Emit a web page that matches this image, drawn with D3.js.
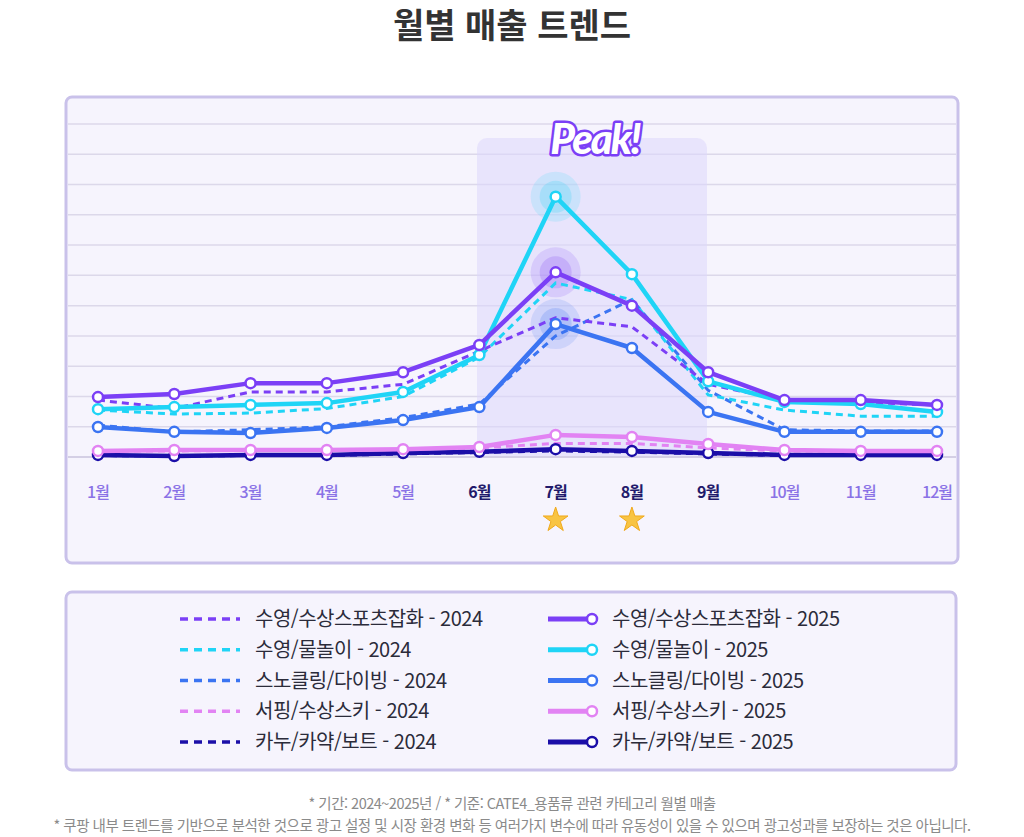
<!DOCTYPE html>
<html lang="ko">
<head>
<meta charset="UTF-8">
<script src="https://cdn.jsdelivr.net/npm/d3@7"></script>
<style>
  body { margin: 0; background: #fff; font-family: "Noto Sans CJK KR", "Noto Sans", sans-serif; }
</style>
</head>
<body>
<script>
var months = ["1월","2월","3월","4월","5월","6월","7월","8월","9월","10월","11월","12월"];
var hiMonths = ["6월","7월","8월","9월"];
var starMonths = ["7월","8월"];
var names = ["수영/수상스포츠잡화","수영/물놀이","스노클링/다이빙","서핑/수상스키","카누/카약/보트"];
var colors = ["#7b3ff6","#1fd4f6","#3b74f2","#e283f3","#1b0ea8"];
var y2025 = [
  [1.98,2.08,2.44,2.44,2.8,3.7,6.1,5.0,2.8,1.88,1.88,1.72],
  [1.58,1.65,1.72,1.78,2.15,3.37,8.6,6.04,2.5,1.82,1.75,1.49],
  [0.99,0.83,0.79,0.96,1.22,1.65,4.39,3.6,1.49,0.83,0.83,0.83],
  [0.2,0.23,0.23,0.23,0.26,0.33,0.73,0.66,0.43,0.23,0.2,0.2],
  [0.07,0.03,0.07,0.07,0.13,0.17,0.26,0.2,0.13,0.07,0.07,0.07]
];
var y2024 = [
  [1.88,1.6,2.15,2.15,2.4,3.5,4.6,4.3,2.4,1.88,1.8,1.72],
  [1.55,1.42,1.45,1.6,2.0,3.3,5.75,5.2,2.05,1.55,1.35,1.35],
  [1.05,0.83,0.9,1.0,1.3,1.75,4.0,5.2,2.2,0.9,0.86,0.86],
  [0.2,0.2,0.22,0.22,0.25,0.3,0.45,0.45,0.3,0.2,0.2,0.2],
  [0.05,0.03,0.05,0.05,0.1,0.15,0.2,0.16,0.1,0.05,0.05,0.05]
];
var gridTicks = d3.range(0, 12);

var W = 1024, H = 837;
var svg = d3.select("body").append("svg").attr("width", W).attr("height", H);

svg.append("text").attr("x", 512).attr("y", 38).attr("text-anchor","middle")
  .attr("font-size", 34).attr("font-weight", 700).attr("fill", "#333").text("월별 매출 트렌드");

// chart panel
svg.append("rect").attr("x",66).attr("y",97).attr("width",892).attr("height",466).attr("rx",6)
  .attr("fill","#f6f4fd").attr("stroke","#c9c1ea").attr("stroke-width",3);

var x = d3.scalePoint().domain(months).range([98, 937]);
var y = d3.scaleLinear().domain([0, 11]).range([457, 124]);

svg.append("g").selectAll("line").data(gridTicks).join("line")
  .attr("x1",68).attr("x2",956).attr("y1",d=>y(d)).attr("y2",d=>y(d))
  .attr("stroke", d => d === 0 ? "#c8c3dc" : "#dcd8ea").attr("stroke-width",1.5);

// peak highlight
svg.append("rect").attr("x",477).attr("y",138).attr("width",230).attr("height",318).attr("rx",10)
  .attr("fill","#ddd7fb").attr("opacity",0.55);

// x labels
svg.append("g").selectAll("text").data(months).join("text")
  .attr("x", d => x(d)).attr("y", 498).attr("text-anchor","middle")
  .attr("font-size", 16).attr("font-weight", d => hiMonths.includes(d) ? 700 : 500)
  .attr("letter-spacing", -1)
  .attr("fill", d => hiMonths.includes(d) ? "#221a6b" : "#8a72e6").text(d => d);

var star = d3.symbol().type(d3.symbolStar).size(190);
svg.append("g").selectAll("path").data(starMonths).join("path")
  .attr("d", star).attr("transform", d => "translate(" + x(d) + ",520)")
  .attr("fill","#f8c443").attr("stroke","#f0a91c").attr("stroke-width",1);

var line = d3.line().x((d,i) => x(months[i])).y(d => y(d));

// halos at July
[1,0,2].forEach(function(s){
  var cx = x("7월"), cy = y(y2025[s][6]);
  svg.append("circle").attr("cx",cx).attr("cy",cy).attr("r",25).attr("fill",colors[s]).attr("opacity",0.15);
  svg.append("circle").attr("cx",cx).attr("cy",cy).attr("r",16).attr("fill",colors[s]).attr("opacity",0.2);
});

var order = [4,3,2,1,0];
order.forEach(function(s){
  svg.append("path").datum(y2024[s]).attr("d", line).attr("fill","none")
    .attr("stroke", colors[s]).attr("stroke-width",3).attr("stroke-dasharray","7,5");
});
order.forEach(function(s){
  svg.append("path").datum(y2025[s]).attr("d", line).attr("fill","none")
    .attr("stroke", colors[s]).attr("stroke-width",4.5).attr("stroke-linejoin","round");
  svg.append("g").selectAll("circle").data(y2025[s]).join("circle")
    .attr("cx",(d,i)=>x(months[i])).attr("cy",d=>y(d)).attr("r",5)
    .attr("fill","#fff").attr("stroke",colors[s]).attr("stroke-width",2.5);
});

// Peak!
svg.append("text").attr("x",595).attr("y",154).attr("text-anchor","middle")
  .attr("font-size",42).attr("font-weight",900).attr("font-style","italic")
  .attr("font-family","Lato, sans-serif").attr("letter-spacing",-2)
  .attr("fill","#fff").attr("stroke","#7b3ff6").attr("stroke-width",5)
  .attr("stroke-linejoin","round").attr("paint-order","stroke")
  .text("Peak!");

// legend panel
svg.append("rect").attr("x",66).attr("y",592).attr("width",890).attr("height",178).attr("rx",6)
  .attr("fill","#f6f4fd").attr("stroke","#c9c1ea").attr("stroke-width",3);
var rowY = d3.scalePoint().domain(d3.range(5)).range([619, 742]);
names.forEach(function(n, i){
  var yy = rowY(i);
  svg.append("line").attr("x1",180).attr("x2",240).attr("y1",yy).attr("y2",yy)
    .attr("stroke",colors[i]).attr("stroke-width",3.5).attr("stroke-dasharray","8,6");
  svg.append("text").attr("x",255).attr("y",yy+7).attr("font-size",20).attr("fill","#2b2b3a")
    .attr("letter-spacing",-0.5).text(n + " - 2024");
  svg.append("line").attr("x1",548).attr("x2",592).attr("y1",yy).attr("y2",yy)
    .attr("stroke",colors[i]).attr("stroke-width",5);
  svg.append("circle").attr("cx",592).attr("cy",yy).attr("r",5).attr("fill","#fff")
    .attr("stroke",colors[i]).attr("stroke-width",2.5);
  svg.append("text").attr("x",612).attr("y",yy+7).attr("font-size",20).attr("fill","#2b2b3a")
    .attr("letter-spacing",-0.5).text(n + " - 2025");
});

svg.append("text").attr("x",512).attr("y",809).attr("text-anchor","middle").attr("font-size",14.5)
  .attr("fill","#8a8a8a").attr("letter-spacing",-0.5).text("* 기간: 2024~2025년 / * 기준: CATE4_용품류 관련 카테고리 월별 매출");
svg.append("text").attr("x",512).attr("y",831).attr("text-anchor","middle").attr("font-size",14.5)
  .attr("fill","#8a8a8a").attr("letter-spacing",-0.5).text("* 쿠팡 내부 트렌드를 기반으로 분석한 것으로 광고 설정 및 시장 환경 변화 등 여러가지 변수에 따라 유동성이 있을 수 있으며 광고성과를 보장하는 것은 아닙니다.");
</script>
</body>
</html>
